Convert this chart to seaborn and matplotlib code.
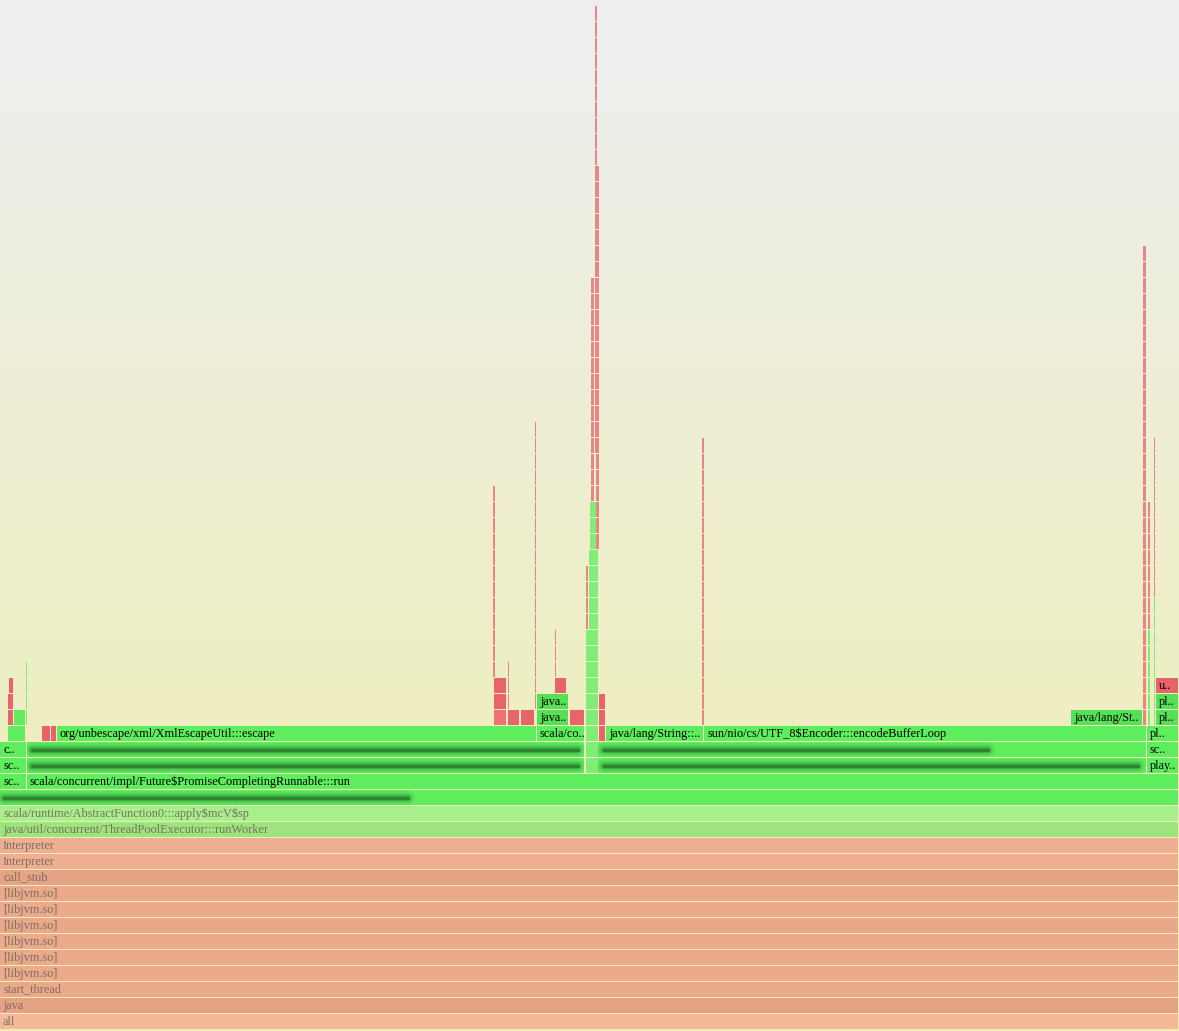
#!/usr/bin/env python3

import numpy as np
import seaborn as sns
import matplotlib.pyplot as plt

# bottom stack: full width frames, one per level starting at 0
base_labels = [
    "all", "java", "start_thread",
    "[libjvm.so]", "[libjvm.so]", "[libjvm.so]",
    "[libjvm.so]", "[libjvm.so]", "[libjvm.so]",
    "call_stub", "Interpreter", "Interpreter",
    "java/util/concurrent/ThreadPoolExecutor:::runWorker",
    "scala/runtime/AbstractFunction0:::apply$mcV$sp",
]
base_colors = [
    "#f5b899", "#e4a184", "#eba98b",
    "#eca98b", "#eba88a", "#eca98b",
    "#eaa789", "#eca98b", "#eba88a",
    "#e7a385", "#efad91", "#efad91",
    "#9de47c", "#a6ef8b",
]

# upper frames: level, start, end, label, kind
frame_level = [14,
               15, 15,
               16, 16, 16, 16,
               17, 17, 17, 17,
               18, 18, 18, 18, 18, 18, 18, 18, 18,
               19, 19, 19, 19, 19, 19, 19, 19, 19, 19,
               20, 20, 20, 20, 20,
               21, 21, 21, 21]
frame_start = [0,
               0, 27,
               0, 27, 598, 1147,
               0, 27, 598, 1147,
               8, 42, 51, 57, 537, 599, 606, 704, 1147,
               8, 14, 494, 508, 521, 537, 570, 599, 1071, 1155.5,
               8, 494, 537, 599, 1155.5,
               9, 494, 555, 1156]
frame_end = [1179,
             27, 1179,
             27, 585, 1147, 1179,
             27, 585, 1147, 1179,
             26, 51, 57, 537, 585, 606, 704, 1147, 1179,
             14, 26, 507, 520, 535, 569, 585, 606, 1143, 1179,
             14, 507, 569, 606, 1179,
             14, 507, 567, 1179]
frame_label = ["",
               "sc..", "scala/concurrent/impl/Future$PromiseCompletingRunnable:::run",
               "sc..", "", "", "play..",
               "c..", "", "", "sc..",
               "", "", "", "org/unbescape/xml/XmlEscapeUtil:::escape", "scala/co..",
               "", "java/lang/String::..", "sun/nio/cs/UTF_8$Encoder:::encodeBufferLoop", "pl..",
               "", "", "", "", "", "java..", "", "", "java/lang/St..", "pl..",
               "", "", "java..", "", "pl..",
               "", "", "", "u.."]
frame_kind = ["g",
              "g", "g",
              "g", "g", "g", "g",
              "g", "g", "g", "g",
              "g", "r", "r", "g", "g", "r", "g", "g", "g",
              "r", "g", "q", "r", "r", "G", "r", "r", "G", "G",
              "r", "r", "G", "r", "G",
              "r", "r", "r", "r"]

# redacted (blurred) names: level, start, end
smudge_level = [14, 16, 16, 17, 17]
smudge_start = [2, 30, 602, 30, 602]
smudge_end = [410, 580, 1140, 580, 990]

# narrow towers of one-sample frames: start, end, first level, last level + 1, kind
tower_start = [26, 493, 508, 534.5, 555, 586, 586, 589, 590, 596, 590.5, 595, 597,
               702, 1143, 1148, 1148, 1153.5, 1153.5]
tower_end = [27.2, 494.5, 509.2, 536, 556.2, 589, 587.5, 598, 596, 599, 594, 596.6, 598.6,
             703.5, 1146, 1149.5, 1149.5, 1155.3, 1155.3]
tower_lo = [19, 22, 20, 20, 22, 16, 25, 16, 30, 30, 33, 36, 36,
            19, 19, 19, 25, 19, 27]
tower_hi = [23, 34, 23, 38, 25, 25, 29, 30, 33, 36, 47, 64, 54,
            37, 49, 25, 33, 27, 37]
tower_kind = ["g", "r", "r", "r", "r", "g", "r", "g", "g", "r", "r", "r", "r",
              "r", "r", "g", "r", "g", "r"]

KIND_COLORS = {"g": "#5ded5d", "G": "#55e055", "r": "#e8636a", "q": "#ee7272"}
ROW = 15 / 16
FONT = ["Liberation Serif", "DejaVu Serif"]


def drawFrame(ax, level, x0, x1, color, label="", text_color="black"):
    w = x1 - x0
    gap = 0.8 if w > 3 else 0.0
    ax.bar(x0, ROW, width=w - gap, bottom=level, align="edge",
           color=color, linewidth=0, zorder=2)
    if label:
        ax.text(x0 + 3, level + 0.28, label, fontsize=8.8, family=FONT,
                color=text_color, va="baseline", ha="left", zorder=4,
                parse_math=False)


def drawSmudge(ax, level, x0, x1):
    # blurred-out frame name: stacked soft strokes
    y = level + 0.45
    for lw, alpha, col in [(10, 0.12, "#3c963c"), (7, 0.2, "#2f8a35"),
                           (4.5, 0.35, "#26752b"), (2.2, 0.55, "#1f5f24")]:
        ax.plot([x0 + 2, x1 - 2], [y, y], color=col, lw=lw, alpha=alpha,
                solid_capstyle="round", zorder=4)


def main():
    sns.set_theme(style="white")
    fig = plt.figure(figsize=(11.79, 10.31), dpi=100)
    ax = fig.add_axes([0, 0, 1, 1])
    ax.set_xlim(0, 1179)
    ax.set_ylim(-2 / 16, 1029 / 16)
    ax.set_axis_off()

    # background gradient like flamegraph.pl
    grad = np.linspace(0, 1, 256).reshape(-1, 1)
    top = np.array([0xee, 0xee, 0xee]) / 255
    bot = np.array([0xee, 0xee, 0xb0]) / 255
    img = top + (bot - top) * np.clip((grad - 0.05) / 0.9, 0, 1)[..., None]
    ax.imshow(img, extent=[0, 1179, -2 / 16, 1029 / 16], aspect="auto",
              origin="upper", zorder=0)

    for lvl, (name, col) in enumerate(zip(base_labels, base_colors)):
        drawFrame(ax, lvl, 0, 1179, col, name, text_color="#7d6f62")

    for lvl, x0, x1, name, kind in zip(frame_level, frame_start, frame_end,
                                       frame_label, frame_kind):
        drawFrame(ax, lvl, x0, x1, KIND_COLORS[kind], name)

    for x0, x1, lo, hi, kind in zip(tower_start, tower_end, tower_lo,
                                    tower_hi, tower_kind):
        for lvl in range(lo, hi):
            ax.bar(x0, ROW, width=x1 - x0, bottom=lvl, align="edge",
                   color=KIND_COLORS[kind], alpha=0.75, linewidth=0, zorder=3)

    for lvl, x0, x1 in zip(smudge_level, smudge_start, smudge_end):
        drawSmudge(ax, lvl, x0, x1)

    fig.savefig("out.png", dpi=100)
    plt.close(fig)


if __name__ == "__main__":
    main()
